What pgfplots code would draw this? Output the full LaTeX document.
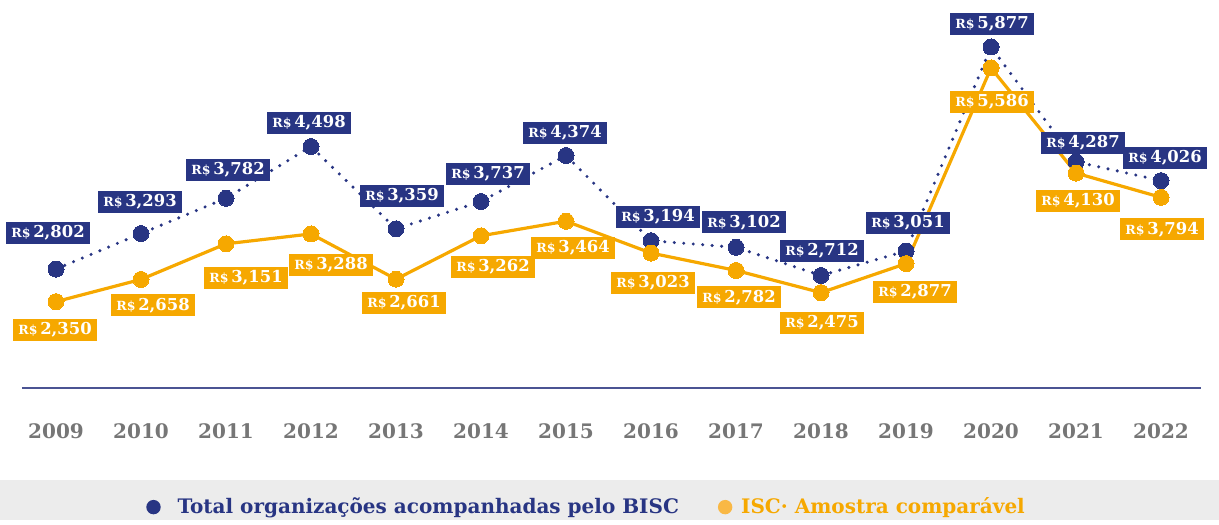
\documentclass[border=0pt]{standalone}
\usepackage{pgfplots}
\pgfplotsset{compat=1.18}
\usepackage{pgfplotstable}
\usepackage{fontspec}
\setmainfont{DejaVu Serif}
\definecolor{navy}{HTML}{283583}
\definecolor{orng}{HTML}{F6A800}
\definecolor{orngl}{HTML}{F9B845}
\definecolor{yeargray}{HTML}{767676}
\definecolor{axisc}{HTML}{4B5493}
\definecolor{band}{HTML}{ECECEC}

\pgfplotstableread{
x y dx dy
0 2802 -4 18
1 3293 -0.5 16
2 3782 1 14
3 4498 -1 12
4 3359 3 16.5
5 3737 3.5 14
6 4374 -0.5 11.5
7 3194 3.5 12
8 3102 4 12.5
9 2712 0.5 12.5
10 3051 1 14
11 5877 0.5 11.5
12 4287 3.5 9.5
13 4026 2 11.5
}\navydata

\pgfplotstableread{
x y dx dy
0 2350 -0.5 -14
1 2658 6 -13
2 3151 10 -17
3 3288 10 -15.5
4 2661 4 -12
5 3262 6 -15.5
6 3464 3.5 -13.5
7 3023 1 -15
8 2782 1.5 -13.5
9 2475 0.5 -15
10 2877 4.5 -14
11 5586 0.5 -17
12 4130 1 -14
13 3794 0.5 -16
}\orngdata

\newcommand{\rs}{{\fontsize{6.3}{7}\selectfont R\$}\,}

\begin{document}
\begin{tikzpicture}
\path (0,0) rectangle (609.5pt,260pt);
\fill[band] (0,0) rectangle (609.5pt,20pt);
\begin{axis}[
  at={(11pt,66pt)}, anchor=south west,
  scale only axis, width=589.5pt, height=194pt,
  xmin=-0.4, xmax=13.47, ymin=1154, ymax=6528,
  clip=false,
  axis x line=bottom, axis y line=none,
  x axis line style={-, draw=axisc, line width=0.75pt},
  xtick={0,...,13},
  xticklabels={2009,2010,2011,2012,2013,2014,2015,2016,2017,2018,2019,2020,2021,2022},
  xtick style={draw=none},
  xticklabel style={anchor=center, yshift=-19.5pt, text=yeargray, font=\bfseries\fontsize{10}{12}\selectfont},
  /pgf/number format/fixed, /pgf/number format/precision=0,
  /pgf/number format/1000 sep={,}, /pgf/number format/assume math mode=true,
  legend columns=2,
  legend style={at={(0.4797,-0.307)}, anchor=center, draw=none, fill=none,
    font=\bfseries\fontsize{10}{12}\selectfont,
    /tikz/every even column/.append style={column sep=17.5pt}},
]
\addplot[navy, line width=1.7pt, dash pattern=on 0pt off 4.75pt, line cap=round,
  mark=*, mark size=4pt, mark options={solid, fill=navy, draw=navy, line width=0pt},
  legend image code/.code={\fill[navy, draw=none] (3.6pt,0) circle (3.6pt); \path[draw=none, fill=none] (0,0) -- (13.6pt,0);}]
  table[x=x,y=y]{\navydata};
\addlegendentry{\textcolor{navy}{Total organizações acompanhadas pelo BISC}}
\addplot[orng, line width=1.6pt,
  mark=*, mark size=4pt, mark options={solid, fill=orng, draw=orng, line width=0pt},
  legend image code/.code={\fill[orngl, draw=none] (3.6pt,0) circle (3.6pt); \path[draw=none, fill=none] (0,0) -- (9.6pt,0);}]
  table[x=x,y=y]{\orngdata};
\addlegendentry{\textcolor{orng}{ISC· Amostra comparável}}

\addplot[draw=none, forget plot, point meta=y,
  visualization depends on={\thisrow{dx}\as\dx},
  visualization depends on={\thisrow{dy}\as\dy},
  nodes near coords={\rs\pgfmathprintnumber{\pgfplotspointmeta}},
  every node near coord/.append style={anchor=center, xshift=\dx pt, yshift=\dy pt,
    fill=navy, text=white, font=\bfseries\fontsize{8.2}{9}\selectfont,
    inner xsep=2.5pt, inner ysep=1.5pt, minimum height=11pt}]
  table[x=x,y=y]{\navydata};
\addplot[draw=none, forget plot, point meta=y,
  visualization depends on={\thisrow{dx}\as\dx},
  visualization depends on={\thisrow{dy}\as\dy},
  nodes near coords={\rs\pgfmathprintnumber{\pgfplotspointmeta}},
  every node near coord/.append style={anchor=center, xshift=\dx pt, yshift=\dy pt,
    fill=orng, text=white, font=\bfseries\fontsize{8.2}{9}\selectfont,
    inner xsep=2.5pt, inner ysep=1.5pt, minimum height=11pt}]
  table[x=x,y=y]{\orngdata};
\end{axis}
\end{tikzpicture}
\end{document}
